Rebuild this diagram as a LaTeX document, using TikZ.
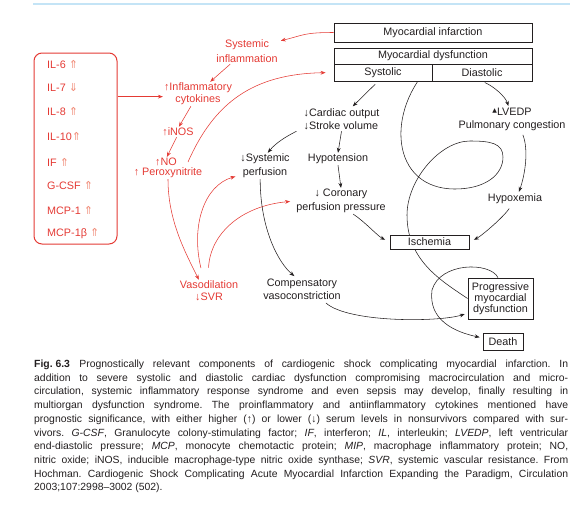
\documentclass[tikz,border=0pt]{standalone}
\usepackage{fontspec}
\setmainfont{Liberation Sans}
\newfontfamily\djv{DejaVu Sans}
\usetikzlibrary{arrows.meta}
\pgfdeclarelayer{background}
\pgfsetlayers{background,main}
\definecolor{myred}{RGB}{228,58,52}
\definecolor{pale}{RGB}{240,138,118}
\definecolor{ink}{RGB}{35,31,32}
\definecolor{topblue}{RGB}{196,228,246}
\newcommand\myup{↑}
\newcommand\mydn{↓}
\newcommand\UA{{\djv\fontsize{11}{10}\selectfont\color{pale}⇑}}
\newcommand\DA{{\djv\fontsize{11}{10}\selectfont\color{pale}⇓}}
\newcommand\mytri{\raisebox{3.2pt}{\djv\fontsize{6}{6}\selectfont ▲}}
\begin{document}
\begin{tikzpicture}[x=1pt,y=-1pt,
 lbl/.style={font=\fontsize{10.8}{13}\selectfont, align=center, inner sep=1pt, text=ink},
 rlbl/.style={lbl, text=myred},
 boxnode/.style={draw=ink, line width=0.8pt, fill=white, inner sep=0pt, font=\fontsize{10.8}{11}\selectfont, text=ink, align=center},
 barr/.style={draw=ink, line width=0.55pt, -{Stealth[length=5pt,width=3.8pt]}},
 rarr/.style={draw=myred, line width=0.55pt, -{Stealth[length=5pt,width=3.8pt]}},
 bline/.style={draw=ink, line width=0.55pt},
]
\useasboundingbox (0,0) rectangle (584,504);
\draw[topblue, line width=2pt] (33,4) -- (570,4);

% boxes
\node[boxnode, minimum width=198pt, minimum height=19pt] (mi) at (433,32.5) {Myocardial infarction};
\node[boxnode, minimum width=198pt, minimum height=16pt] (md) at (433,56) {Myocardial dysfunction};
\node[boxnode, minimum width=98pt, minimum height=17pt] (sys) at (383,72.5) {Systolic};
\node[boxnode, minimum width=100pt, minimum height=17pt] (dia) at (482,72.5) {Diastolic};
\node[boxnode, minimum width=79pt, minimum height=14pt] (isch) at (429.5,242) {Ischemia};
\node[boxnode, minimum width=65pt, minimum height=41pt] (prog) at (500.5,298.5) {Progressive\\myocardial\\dysfunction};
\node[boxnode, minimum width=40pt, minimum height=17pt] (death) at (503,341.5) {Death};

% cytokine box
\node[draw=myred, line width=1pt, rounded corners=8pt, minimum width=83pt, minimum height=191pt, inner sep=0pt] (cyto) at (75.5,148.5) {};
\node[rlbl, anchor=west] (il6) at (46,65) {IL-6 \UA};
\node[rlbl, anchor=west] (il7) at (46,88) {IL-7 \DA};
\node[rlbl, anchor=west] (il8) at (46,112) {IL-8 \UA};
\node[rlbl, anchor=west] (il10) at (46,137) {IL-10\UA};
\node[rlbl, anchor=west] (if) at (46,162) {IF \UA};
\node[rlbl, anchor=west] (gcsf) at (46,186) {G-CSF \UA};
\node[rlbl, anchor=west] (mcp1) at (46,211) {MCP-1 \UA};
\node[rlbl, anchor=west] (mcp1b) at (46,234) {MCP-1β \UA};

% red labels
\node[rlbl, font=\fontsize{10.8}{15}\selectfont] (sysinfl) at (247,51.5) {Systemic\\inflammation};
\node[rlbl, font=\fontsize{10.8}{12}\selectfont] (cytok) at (198,94) {\myup Inflammatory\\cytokines};
\node[rlbl] (inos) at (178,132) {\myup iNOS};
\node[rlbl] (noN) at (166,162) {\myup NO};
\node[rlbl] (perox) at (168,173) {\myup\ Peroxynitrite};
\node[rlbl, font=\fontsize{10.8}{12}\selectfont] (vaso) at (209,291) {Vasodilation\\\mydn SVR};

% black labels
\node[lbl, font=\fontsize{10.8}{14}\selectfont] (sysperf) at (265,166) {\mydn Systemic\\perfusion};
\node[lbl, align=left] (card) at (341.5,119.5) {\mydn Cardiac output\\\mydn Stroke volume};
\node[lbl] (hypot) at (338,159) {Hypotension};
\node[lbl, font=\fontsize{10.8}{14}\selectfont] (coron) at (341,201) {\mydn\ Coronary\\perfusion pressure};
\node[lbl] (lvedp) at (512,119.5) {\mytri LVEDP\\Pulmonary congestion};
\node[lbl] (hypox) at (515,199) {Hypoxemia};
\node[lbl] (comp) at (302,289.5) {Compensatory\\vasoconstriction};

% red connectors
\draw[rarr, shorten >=2pt] (mi.west) .. controls +(-30,0) and +(25,-6) .. (sysinfl.18);
\draw[rarr] (sysinfl.217) -- (cytok.45);
\draw[rarr] (cytok.240) -- (inos.80);
\draw[rarr] (inos.255) -- (noN.80);
\draw[rarr] (cyto.51.7) -- (cyto.51.7 -| cytok.west);
\draw[rarr, shorten >=8pt] ([xshift=10pt]noN.east) .. controls +(26,-59) and +(-81,1.5) .. (sys.west);
\draw[rarr] (perox.south) .. controls +(0,40) and +(-15,-30) .. (vaso.132);
\draw[rarr, shorten <=12pt, shorten >=4pt] (vaso.115) .. controls +(-13,-54) and +(-35,10) .. (sysperf.200);
\draw[rarr, shorten <=12pt, shorten >=5pt] (vaso.95) .. controls +(2,-45) and +(-55,5) .. (coron.west);

% black connectors
\draw[barr, shorten <=4pt, shorten >=2pt] ([xshift=-5pt]sys.south) .. controls +(-8,8) and +(8,-8) .. (card.50);
\draw[barr] ([xshift=-6pt]card.south west) .. controls +(-10,5) and +(8,-10) .. (sysperf.78);
\draw[barr] (card.south) -- (hypot.north);
\draw[barr] (hypot.south) -- (coron.north);
\draw[barr, shorten >=5pt] (coron.-47) .. controls +(12,8) and +(-12,-6) .. (isch.west);
\draw[barr, shorten <=4pt, shorten >=5pt] (hypox.-120) .. controls +(-8,12) and +(12,-6) .. (isch.east);
\draw[barr, shorten <=3pt, shorten >=1pt] (dia.south) .. controls +(12,5) and +(-3,-10) .. (lvedp.105);
\draw[barr, shorten <=3pt, shorten >=1pt] (lvedp.-52) .. controls +(7,18) and +(6.5,-18) .. (hypox.60);
\draw[barr, shorten >=3pt] (sysperf.-110) .. controls +(0,50) and +(-18,-15) .. (comp.115);
\draw[barr, shorten <=3pt, shorten >=3pt] (comp.-28) .. controls +(25,22) and +(-28,9) .. (prog.204);
\begin{pgfonlayer}{background}
\draw[bline] (sys.north east) .. controls (385,110) and (390,189) .. (455,189)
  .. controls (485,189) and (503,175) .. (503,157)
  .. controls (503,143) and (490,141) .. (470,141)
  .. controls (440,141) and (407,180) .. (407,215)
  .. controls (407,260) and (440,280) .. (prog.west);
\end{pgfonlayer}
\draw[barr, shorten >=3pt] ([xshift=-2.5pt]prog.north) .. controls +(-8,-16) and +(8,-28) .. (432,290)
  .. controls +(-4,30) and +(-28,-6) .. (death.170);

% caption
\node[anchor=base west, text width=534pt, align=justify, inner sep=0pt, text=ink, font=\fontsize{10.4}{13.7}\selectfont] (caption) at (34,367.5) {\tolerance=10000\hyphenpenalty=10000\frenchspacing
\mbox{\bfseries Fig. 6.3}\hspace{0.9em}Prognostically relevant components of cardiogenic shock complicating myocardial infarction. In\linebreak
addition to severe systolic and diastolic cardiac dysfunction compromising macrocirculation and micro-\linebreak
circulation, systemic inflammatory response syndrome and even sepsis may develop, finally resulting in\linebreak
multiorgan dysfunction syndrome. The proinflammatory and antiinflammatory cytokines mentioned have\linebreak
prognostic significance, with either higher (↑) or lower (↓) serum levels in nonsurvivors compared with sur-\linebreak
vivors. \textit{G-CSF}, Granulocyte colony-stimulating factor; \textit{IF}, interferon; \textit{IL}, interleukin; \textit{LVEDP}, left ventricular\linebreak
end-diastolic pressure; \textit{MCP}, monocyte chemotactic protein; \textit{MIP}, macrophage inflammatory protein; NO,\linebreak
nitric oxide; iNOS, inducible macrophage-type nitric oxide synthase; \textit{SVR}, systemic vascular resistance. From\linebreak
Hochman. Cardiogenic Shock Complicating Acute Myocardial Infarction Expanding the Paradigm, Circulation\linebreak
2003;107:2998–3002 (502).};
\end{tikzpicture}
\end{document}
